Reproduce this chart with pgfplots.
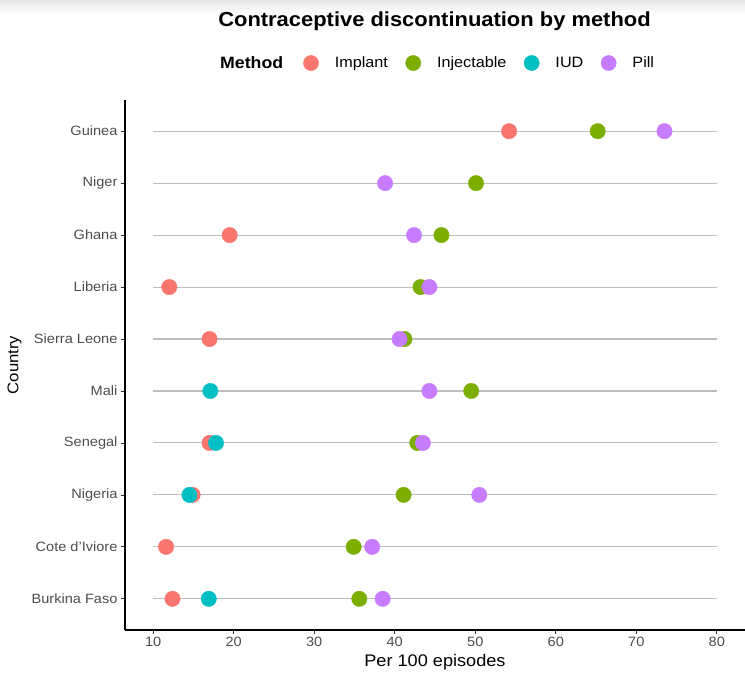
\documentclass[border=0pt]{standalone}
\usepackage{pgfplots}
\pgfplotsset{compat=1.18}
\usepackage{fontspec}
\setmainfont[FakeStretch=1.08]{Liberation Sans}
\definecolor{cImp}{HTML}{F8766D}
\definecolor{cInj}{HTML}{7CAE00}
\definecolor{cIUD}{HTML}{00BFC4}
\definecolor{cPill}{HTML}{C77CFF}
\definecolor{segcol}{HTML}{BEBEBE}
\definecolor{ticklab}{HTML}{4D4D4D}
\begin{document}
\begin{tikzpicture}
\useasboundingbox (0pt,0pt) rectangle (745pt,675pt);
\shade[top color=gray!20, bottom color=white] (0pt,661pt) rectangle (745pt,675pt);
\node[font=\bfseries\fontsize{20.3}{23}\selectfont, anchor=center, inner sep=0pt] at (434.5pt,654pt) {Contraceptive discontinuation by method};
\node[font=\bfseries\fontsize{16.4}{18}\selectfont, anchor=west, inner sep=0pt] at (220pt,612pt) {Method};
\begin{axis}[
  at={(125pt,45pt)}, anchor=south west,
  scale only axis, width=620pt, height=530pt,
  xmin=6.5, xmax=83.5, ymin=0.4, ymax=10.6,
  axis x line*=bottom, axis y line*=left,
  axis line style={-, black, line width=1.1pt},
  xtick={10,20,...,80}, ytick={1,...,10},
  yticklabels={Burkina Faso, Cote d'Iviore, Nigeria, Senegal, Mali, Sierra Leone, Liberia, Ghana, Niger, Guinea},
  tick align=outside, major tick length=4pt,
  tick style={black!80, line width=0.8pt},
  tick label style={font=\fontsize{13.5}{15}\selectfont, text=ticklab},
  /pgf/number format/assume math mode=true,
  xlabel={Per 100 episodes}, ylabel={Country},
  xlabel style={font=\fontsize{16.8}{18}\selectfont, at={(axis description cs:0.5,-0.0604)}, anchor=center},
  ylabel style={font=\fontsize{15.5}{18}\selectfont, at={(axis description cs:-0.1782,0.5)}, anchor=center},
  legend style={at={(axis description cs:0.2823,1.0698)}, anchor=west, draw=none, fill=none,
    legend columns=-1, font=\fontsize{15}{17}\selectfont, nodes={inner sep=0pt},
    /tikz/every odd column/.append style={column sep=16pt},
    /tikz/every even column/.append style={column sep=17.5pt}},
  legend image code/.code={\fill[#1] (0pt,0pt) circle (7.6pt);},
  clip=false,
]
\pgfplotsinvokeforeach{1,...,10}{
  \addplot[segcol, line width=1.1pt, forget plot] coordinates {(10,#1) (80,#1)};
}
\addplot[only marks, mark=*, mark size=7.7pt, color=cImp, mark options={draw=cImp, fill=cImp}]
  coordinates {(54.2,10) (19.5,8) (12.0,7) (17.0,6) (17.0,4) (14.9,3) (11.6,2) (12.4,1)};
\addlegendentry{Implant}
\addplot[only marks, mark=*, mark size=7.7pt, color=cInj, mark options={draw=cInj, fill=cInj}]
  coordinates {(65.2,10) (50.1,9) (45.8,8) (43.2,7) (41.2,6) (49.5,5) (42.8,4) (41.1,3) (34.9,2) (35.6,1)};
\addlegendentry{Injectable}
\addplot[only marks, mark=*, mark size=7.7pt, color=cIUD, mark options={draw=cIUD, fill=cIUD}]
  coordinates {(17.1,5) (17.8,4) (14.5,3) (16.9,1)};
\addlegendentry{IUD}
\addplot[only marks, mark=*, mark size=7.7pt, color=cPill, mark options={draw=cPill, fill=cPill}]
  coordinates {(73.5,10) (38.8,9) (42.4,8) (44.3,7) (40.6,6) (44.3,5) (43.5,4) (50.5,3) (37.2,2) (38.5,1)};
\addlegendentry{Pill}
\end{axis}
\end{tikzpicture}
\end{document}
